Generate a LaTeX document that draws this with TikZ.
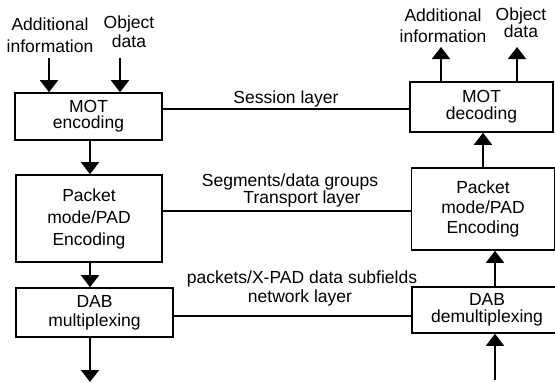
\documentclass[tikz,border=0pt]{standalone}
\usepackage{fontspec}
\setmainfont{Liberation Sans}
\usetikzlibrary{arrows.meta}
\begin{document}
\begin{tikzpicture}[x=1pt,y=-1pt,
  box/.style={draw,line width=1.6pt,inner sep=0pt,align=center,
    font=\fontsize{17.5}{#1}\selectfont},
  lab/.style={inner sep=0pt,font=\fontsize{17.5}{20}\selectfont},
  stack/.style={inner sep=0pt,align=center,anchor=north,
    font=\fontsize{17.5}{#1}\selectfont},
  conn/.style={line width=1.6pt},
  arr/.style={line width=1.8pt,-{Triangle[width=18pt,length=12pt]}}]
\useasboundingbox (0,0) rectangle (555,383);
\fill[white] (0,0) rectangle (555,383);
\clip (0,0) rectangle (555,383);

% transmitter side
\node[box=16,minimum width=147pt,minimum height=47pt] (mote) at (88.5,116.5) {MOT\\encoding};
\node[box=22,minimum width=146pt,minimum height=87pt] (pkte) at (89,218.5) {Packet\\mode/PAD\\Encoding};
\node[box=19,minimum width=157pt,minimum height=49pt] (dabm) at (94.5,312.5) {DAB\\multiplexing};

% receiver side
\node[box=17,minimum width=143pt,minimum height=50pt] (motd) at (481.5,107) {MOT\\decoding};
\node[box=20,minimum width=143pt,minimum height=82pt] (pktd) at (483,209) {Packet\\mode/PAD\\Encoding};
\node[box=17,minimum width=150pt,minimum height=46pt] (dabd) at (487,310) {DAB\\demultiplexing};

% inputs and outputs
\node[stack=22] (addL) at (50,17.5) {Additional\\information};
\node[stack=19] (objL) at (129,15.5) {Object\\data};
\node[stack=21] (addR) at (443,8.5) {Additional\\information};
\node[stack=17] (objR) at (521,7.5) {Object\\data};

\coordinate (inA) at (49,58);
\coordinate (inB) at (120,58);
\coordinate (outA) at (441,47);
\coordinate (outB) at (517,47);
\coordinate (txCol) at (90,0);
\coordinate (txOut) at (90,382);
\coordinate (rxCol) at (483,0);
\coordinate (rxIn) at (495,380);

\draw[arr] (inA) -- (inA |- mote.north);
\draw[arr] (inB) -- (inB |- mote.north);
\draw[arr] (txCol |- mote.south) -- (txCol |- pkte.north);
\draw[arr] (txCol |- pkte.south) -- (txCol |- dabm.north);
\draw[arr] (txOut |- dabm.south) -- (txOut);

\draw[arr] (rxIn) -- (rxIn |- dabd.south);
\draw[arr] (rxIn |- dabd.north) -- (rxIn |- pktd.south);
\draw[arr] (rxCol |- pktd.north) -- (rxCol |- motd.south);
\draw[arr] (outA |- motd.north) -- (outA);
\draw[arr] (outB |- motd.north) -- (outB);

% peer layers
\coordinate (ySess) at (0,109);
\coordinate (yTrans) at (0,211);
\coordinate (yNet) at (0,316);
\draw[conn] (mote.east |- ySess) -- (motd.west |- ySess);
\draw[conn] (pkte.east |- yTrans) -- (pktd.west |- yTrans);
\draw[conn] (dabm.east |- yNet) -- (dabd.west |- yNet);

\node[lab,anchor=base] (sess) at (286,103) {Session layer};
\node[lab,anchor=base] (seg) at (290,186) {Segments/data groups};
\node[lab,anchor=base] (trans) at (302,203) {Transport layer};
\node[lab,anchor=base] (pkts) at (302,283) {packets/X-PAD data subfields};
\node[lab,anchor=base] (net) at (300,302) {network layer};
\end{tikzpicture}
\end{document}
